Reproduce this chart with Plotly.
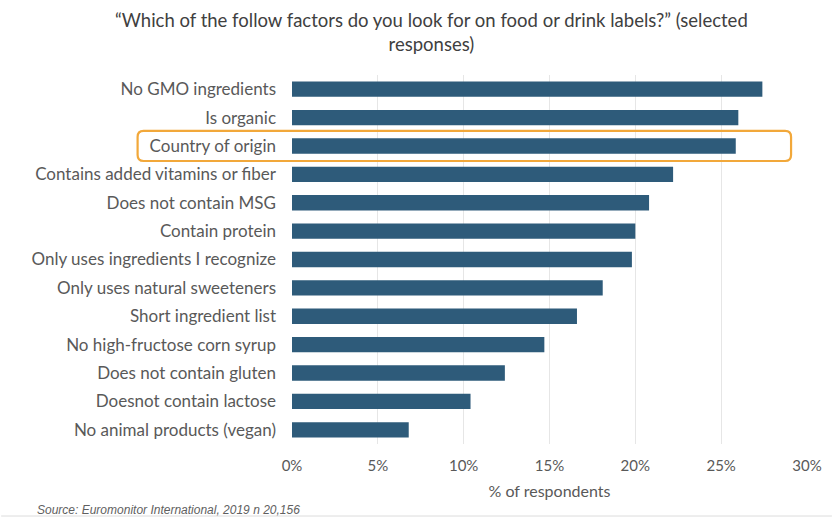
import plotly.graph_objects as go

categories = [
    "No GMO ingredients",
    "Is organic",
    "Country of origin",
    "Contains added vitamins or fiber",
    "Does not contain MSG",
    "Contain protein",
    "Only uses ingredients I recognize",
    "Only uses natural sweeteners",
    "Short ingredient list",
    "No high-fructose corn syrup",
    "Does not contain gluten",
    "Doesnot contain lactose",
    "No animal products (vegan)",
]
values = [27.4, 26.0, 25.85, 22.2, 20.8, 20.0, 19.8, 18.1, 16.6, 14.7, 12.4, 10.4, 6.8]
x_ticks = [0, 5, 10, 15, 20, 25, 30]
x_tick_labels = ["0%", "5%", "10%", "15%", "20%", "25%", "30%"]
highlight = "Country of origin"
title_text = "“Which of the follow factors do you look for on food or drink labels?” (selected<br>responses)"
source_text = "Source: Euromonitor International, 2019 n 20,156"

TEXT = "#595959"
BAR = "#2e5b7a"
FONT = "Lato, 'Open Sans', sans-serif"

fig = go.Figure(go.Bar(
    x=values, y=categories, orientation="h",
    marker=dict(color=BAR, line=dict(width=0)),
    width=0.54,
))

W, H = 834, 518
L, R, T, B = 292, 25, 75, 74
pw, ph = W - L - R, H - T - B

def px2paper_x(px):
    return (px - L) / pw

def px2paper_y(py):
    return (H - B - py) / ph

idx = categories.index(highlight)
x0, x1 = px2paper_x(137), px2paper_x(793)
y0, y1 = idx - 0.53, idx + 0.53
rx = 6 / pw
ry = 6 / (ph / len(categories))
path = (f"M {x0+rx},{y0} L {x1-rx},{y0} Q {x1},{y0} {x1},{y0+ry} "
        f"L {x1},{y1-ry} Q {x1},{y1} {x1-rx},{y1} "
        f"L {x0+rx},{y1} Q {x0},{y1} {x0},{y1-ry} "
        f"L {x0},{y0+ry} Q {x0},{y0} {x0+rx},{y0} Z")

fig.update_layout(
    width=W, height=H,
    margin=dict(l=L, r=R, t=T, b=B),
    paper_bgcolor="white", plot_bgcolor="white",
    font=dict(family=FONT, color=TEXT, size=16),
    showlegend=False,
    xaxis=dict(
        range=[0, 30], tickvals=x_ticks, ticktext=x_tick_labels,
        showgrid=True, gridcolor="#e6e6e6", gridwidth=1,
        zeroline=False, showline=False,
        ticks="", ticklabelstandoff=11,
        tickfont=dict(size=15, color=TEXT),
        title=dict(text="% of respondents", standoff=12, font=dict(size=16, color=TEXT)),
        fixedrange=True,
    ),
    yaxis=dict(
        range=[len(categories) - 0.5, -0.5],
        showgrid=False, zeroline=False,
        showline=False, ticks="", ticklabelstandoff=15,
        tickfont=dict(size=17, color=TEXT),
    ),
    shapes=[
        dict(type="path", path=path, xref="paper", yref="y",
             line=dict(color="#f2a83a", width=2.2), fillcolor="rgba(0,0,0,0)", layer="above"),
        dict(type="line", xref="paper", yref="paper",
             x0=px2paper_x(0), x1=px2paper_x(W), y0=px2paper_y(516), y1=px2paper_y(516),
             line=dict(color="#dcdcdc", width=1)),
    ],
    annotations=[
        dict(text=title_text,
             xref="paper", yref="paper", x=px2paper_x(432), y=px2paper_y(7),
             xanchor="center", yanchor="top", showarrow=False, align="center",
             font=dict(size=18.5, color="#404040", family=FONT)),
        dict(text=f"<i>{source_text}</i>",
             xref="paper", yref="paper", x=px2paper_x(34), y=px2paper_y(510),
             xanchor="left", yanchor="middle", showarrow=False,
             font=dict(size=12, color="#606060", family="'Liberation Sans', Arial, sans-serif")),
    ],
)

fig.write_html("out.html")
